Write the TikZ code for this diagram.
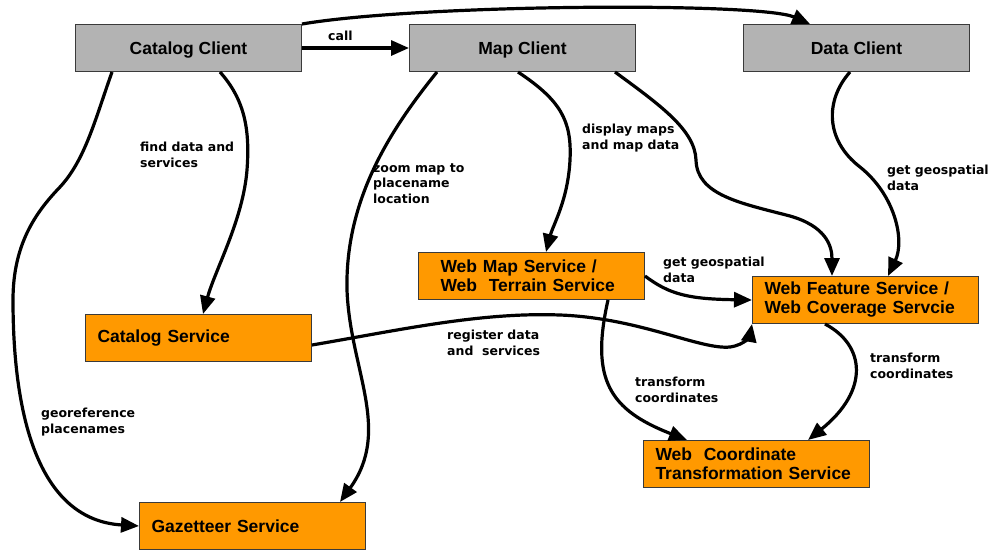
\documentclass[tikz,border=0pt]{standalone}
\usepackage{fontspec}
\usepackage{tikz}
\usetikzlibrary{arrows.meta,calc}
\newfontfamily\boxfont{Liberation Sans}
\newfontfamily\lblfont{DejaVu Sans}
\definecolor{clientgray}{HTML}{B3B3B3}
\definecolor{serviceorange}{HTML}{FF9900}
\definecolor{boxline}{HTML}{3A3A3A}

\tikzset{
  client/.style={draw=boxline, line width=1pt, fill=clientgray, anchor=north west,
    minimum width=226pt, minimum height=47pt, inner sep=0pt, text height=16pt, text depth=3.5pt,
    font=\boxfont\bfseries\fontsize{17.5}{19}\selectfont},
  service/.style={draw=boxline, line width=1pt, fill=serviceorange, anchor=north west,
    minimum height=47pt, inner ysep=0pt, inner xsep=#1, text width=226pt-2*#1, align=left,
    font=\boxfont\bfseries\fontsize{17.5}{19}\selectfont},
  service/.default=12pt,
  flow/.style={line width=3.2pt, -{Triangle[length=18pt,width=15pt]}},
  lbl/.style={anchor=base west, inner sep=0pt, align=left,
    font=\lblfont\bfseries\fontsize{12.5}{15.5}\selectfont}
}

\begin{document}
\begin{tikzpicture}[x=1pt, y=-1pt]
\useasboundingbox (0,0) rectangle (994,550);

% clients
\node[client] (cc) at (75,24) {Catalog Client};
\node[client] (mc) at (409,24) {Map Client};
\node[client] (dc) at (743,24) {Data Client};

% services
\node[service=22pt] (wms) at (418,252) {Web Map Service /\\Web~~Terrain Service};
\node[service] (wfs) at (752,276) {Web Feature Service /\\Web Coverage Servcie};
\node[service] (wcts) at (643,440) {Web~~Coordinate\\Transformation Service};
\node[service] (cs) at (85,314) {Catalog Service};
\node[service] (gs) at (139,502) {Gazetteer Service};

\draw[flow] (cc.east) -- (mc.west);
\draw[flow] (cc.north east) .. controls (420,4) and (760,2) .. ([xshift=67pt]dc.north west);
\draw[flow] ([xshift=37pt]cc.south west) .. controls (95,120) and (85,160) .. (60,187)
  .. controls (35,213) and (13,245) .. (13,300) .. controls (13,420) and (40,520) .. (gs.west);
\draw[flow] ([xshift=145pt]cc.south west) .. controls (245,100) and (250,130) .. (247,170)
  .. controls (243,220) and (215,270) .. ([xshift=118pt]cs.north west);
\draw[flow] ([xshift=28pt]mc.south west) .. controls (390,130) and (345,200) .. (347,290)
  .. controls (350,370) and (392,430) .. ([xshift=201pt]gs.north west);
\draw[flow] ([xshift=109pt]mc.south west) .. controls (560,100) and (572,120) .. (570,160)
  .. controls (568,200) and (553,225) .. ([xshift=128pt]wms.north west);
\draw[flow] ([xshift=206pt]mc.south west) .. controls (660,105) and (695,130) .. (696,160)
  .. controls (697,195) and (740,203) .. (790,216) .. controls (825,226) and (832,245) .. ([xshift=80pt]wfs.north west);
\draw[flow] ([xshift=107pt]dc.south west) .. controls (825,100) and (825,140) .. (860,167)
  .. controls (895,195) and (905,240) .. ([xshift=136pt]wfs.north west);
\draw[flow] (wms.east) .. controls (670,295) and (690,299) .. (wfs.west);
\draw[flow] ([yshift=-7pt]cs.east) .. controls (400,330) and (480,312) .. (560,315)
  .. controls (640,318) and (700,350) .. (730,347) .. controls (745,345) and (750,335) .. (wfs.south west);
\draw[flow] ([xshift=190pt]wms.south west) .. controls (590,380) and (610,410) .. ([xshift=44pt]wcts.north west);
\draw[flow] ([xshift=73pt]wfs.south west) .. controls (865,345) and (870,390) .. ([xshift=165pt]wcts.north west);

% labels (placed at the baseline of their last line)
\node[lbl] (lcall) at (328,40) {call};
\node[lbl] (lfind) at (140,167) {find data and\\services};
\node[lbl] (lzoom) at (373,203) {zoom map to\\placename\\location};
\node[lbl] (ldisplay) at (582,149) {display maps\\and map data};
\node[lbl] (lgetdc) at (887,190) {get geospatial\\data};
\node[lbl] (lgetwms) at (663,282) {get geospatial\\data};
\node[lbl] (lregister) at (447,355) {register data\\and~~services};
\node[lbl] (ltranswms) at (635,402) {transform\\coordinates};
\node[lbl] (ltranswfs) at (870,378) {transform\\coordinates};
\node[lbl] (lgeoref) at (41,433) {georeference\\placenames};
\end{tikzpicture}
\end{document}
